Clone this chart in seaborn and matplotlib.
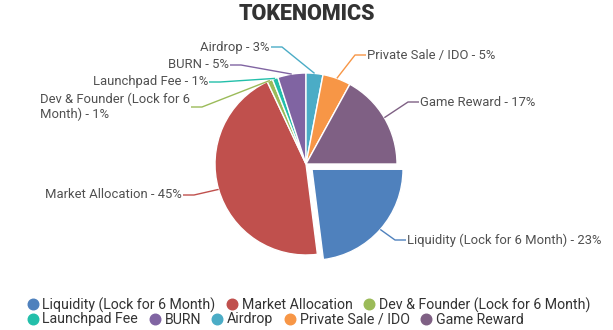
import numpy as np
import matplotlib
matplotlib.use("Agg")
import matplotlib.pyplot as plt
import seaborn as sns
from matplotlib.lines import Line2D

categories = ["Liquidity (Lock for 6 Month)", "Market Allocation",
              "Dev & Founder (Lock for 6 Month)", "Launchpad Fee", "BURN",
              "Airdrop", "Private Sale / IDO", "Game Reward"]
values = [23, 45, 1, 1, 5, 3, 5, 17]
colors = ["#4F81BD", "#C0504D", "#9BBB59", "#23BFAA", "#8064A2",
          "#4BACC6", "#F79646", "#7F6084"]
label_texts = ["Liquidity (Lock for 6 Month) - 23%", "Market Allocation - 45%",
               "Dev & Founder (Lock for 6\nMonth) - 1%", "Launchpad Fee - 1%",
               "BURN - 5%", "Airdrop - 3%", "Private Sale / IDO - 5%",
               "Game Reward - 17%"]
title = "TOKENOMICS"

sns.set_theme(style="white")
plt.rcParams["font.family"] = ["Roboto", "DejaVu Sans"]

W, H = 613, 330
fig = plt.figure(figsize=(W / 100, H / 100), dpi=100)
ax = fig.add_axes([0, 0, 1, 1])

cx, cy, R = 306, H - 164, 91
explode = [8 if i == 0 else 0 for i in range(len(values))]

wedges, _ = ax.pie(values, colors=colors, startangle=0, counterclock=False,
                   radius=R, center=(cx, cy), explode=explode,
                   wedgeprops=dict(edgecolor="white", linewidth=1.0))
ax.set_xlim(0, W)
ax.set_ylim(0, H)
ax.set_aspect("auto")
ax.axis("off")

# label layout: text anchor in pixel coords (from top), side of text
layout = [(407, 240, "left"), (182, 195, "right"), (190, 107, "right"),
          (208, 82, "right"), (229, 65, "right"), (270, 47, "right"),
          (367, 55, "left"), (420, 102, "left")]

total = float(sum(values))
start = 0.0
for i, (v, lab, (tx, ty, side)) in enumerate(zip(values, label_texts, layout)):
    span = 360.0 * v / total
    mid = np.deg2rad(start - span / 2)
    start -= span
    off = explode[i]
    px = cx + (R + off) * np.cos(mid)
    py = cy + (R + off) * np.sin(mid)
    ty_d = H - ty
    if side == "left":
        x_text_edge = tx - 1
        elbow = tx - 12
        ha = "left"
    else:
        x_text_edge = tx + 1
        elbow = tx + 12
        ha = "right"
    ax.plot([px, elbow, x_text_edge], [py, ty_d, ty_d], color=colors[i], lw=1,
            solid_capstyle="butt")
    ax.text(tx, ty_d, lab, ha=ha, va="center", fontsize=9.4, color="#505050",
            multialignment="left", linespacing=1.1)

fig.text(307 / W, 1 - 14 / H, title, ha="center", va="center",
         fontsize=15.5, fontweight="black", color="#333333",
         family=["Roboto", "DejaVu Sans"])

handles = [Line2D([], [], marker="o", linestyle="", markersize=7.6,
                  markerfacecolor=c, markeredgecolor=c) for c in colors]
common = dict(loc="center left", frameon=False, fontsize=10.2,
              handletextpad=0.3, columnspacing=0.75, borderpad=0,
              borderaxespad=0, handlelength=0.8, labelcolor="#333333")
leg1 = fig.legend(handles[:3], categories[:3], ncol=3,
                  bbox_to_anchor=(26.9 / W, 1 - 305 / H), **common)
leg2 = fig.legend(handles[3:], categories[3:], ncol=5,
                  bbox_to_anchor=(26.9 / W, 1 - 319.5 / H), **common)

fig.savefig("out.png", dpi=100)
